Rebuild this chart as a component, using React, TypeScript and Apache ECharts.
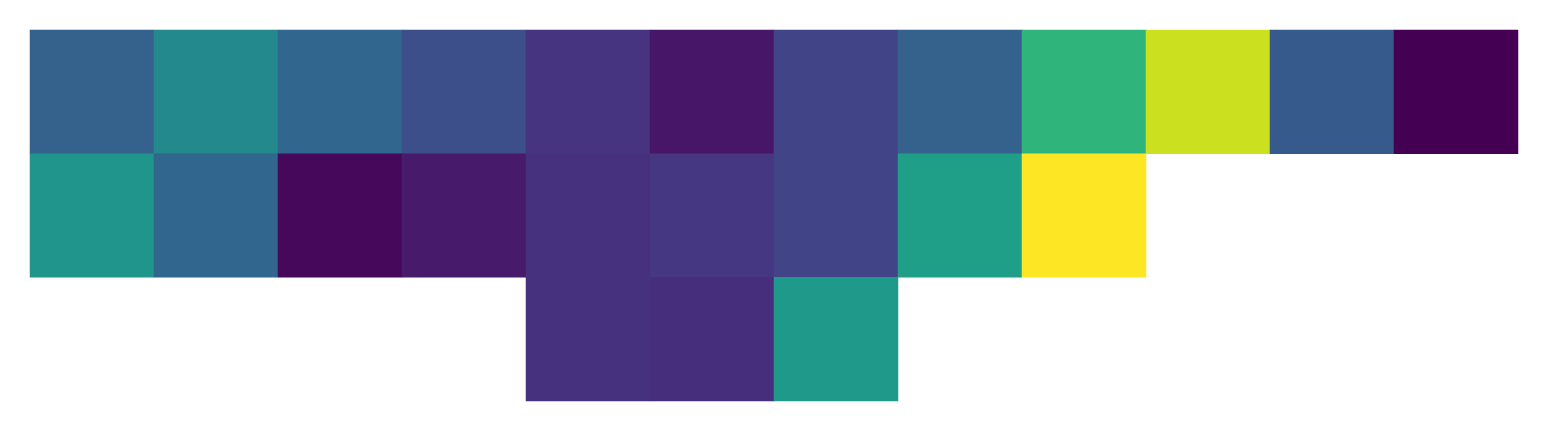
import React, { useEffect, useRef } from "react";
import * as echarts from "echarts";

const columns = ["0", "1", "2", "3", "4", "5", "6", "7", "8", "9", "10", "11"];
const rows = ["0", "1", "2"];

const row0: (number | null)[] = [0.31, 0.47, 0.33, 0.24, 0.15, 0.06, 0.2, 0.31, 0.65, 0.92, 0.28, 0.0];
const row1: (number | null)[] = [0.52, 0.33, 0.02, 0.07, 0.14, 0.16, 0.2, 0.56, 1.0, null, null, null];
const row2: (number | null)[] = [null, null, null, null, 0.14, 0.13, 0.54, null, null, null, null, null];

const viridis = [
  "#440154", "#471365", "#482475", "#463480", "#414487", "#3b528b", "#355f8d",
  "#2f6c8e", "#2a788e", "#25848e", "#21918c", "#1e9c89", "#22a884", "#2fb47c",
  "#44bf70", "#5ec962", "#7ad151", "#9bd93c", "#bddf26", "#dfe318", "#fde725",
];

export default function App() {
  const ref = useRef<HTMLDivElement>(null);
  useEffect(() => {
    if (!ref.current) return;
    const chart = echarts.init(ref.current, null, { renderer: "svg" });
    const data: [number, number, number][] = [];
    [row0, row1, row2].forEach((r, yi) => {
      r.forEach((v, xi) => {
        if (v !== null) data.push([xi, yi, v]);
      });
    });
    chart.setOption({
      animation: false,
      backgroundColor: "#ffffff",
      grid: { left: 30, top: 30, width: 1488, height: 371 },
      xAxis: { type: "category", data: columns, show: false },
      yAxis: { type: "category", data: rows, inverse: true, show: false },
      visualMap: { show: false, min: 0, max: 1, dimension: 2, inRange: { color: viridis } },
      series: [
        {
          type: "heatmap",
          data,
          itemStyle: { borderWidth: 0 },
          emphasis: { disabled: true },
        },
      ],
    });
    return () => chart.dispose();
  }, []);
  return (
    <div
      ref={ref}
      style={{ position: "absolute", left: 0, top: 0, width: 1548, height: 432 }}
    />
  );
}
